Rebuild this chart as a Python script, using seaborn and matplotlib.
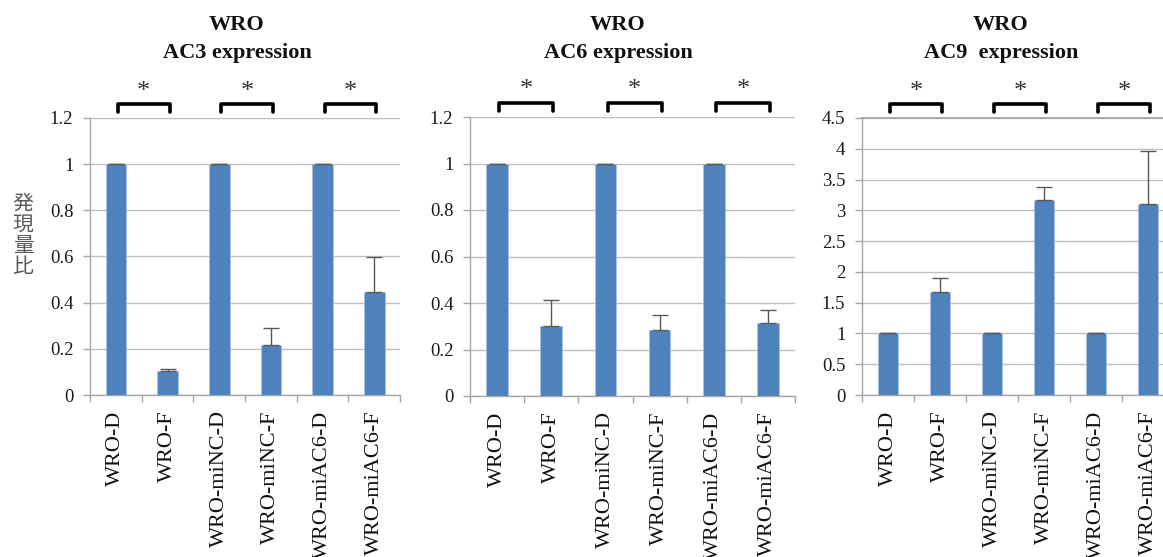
import numpy as np
import pandas as pd
import matplotlib
matplotlib.use("Agg")
import matplotlib.pyplot as plt
import matplotlib.transforms as mtransforms
import seaborn as sns

# Sample groups (same for all three genes)
groups = ["WRO-D", "WRO-F", "WRO-miNC-D", "WRO-miNC-F", "WRO-miAC6-D", "WRO-miAC6-F"]

# Relative expression (mean) and upper error per gene
ac3_mean = [1.0, 0.103, 1.0, 0.218, 1.0, 0.447]
ac3_err = [0.0, 0.010, 0.0, 0.074, 0.0, 0.153]

ac6_mean = [1.0, 0.300, 1.0, 0.283, 1.0, 0.313]
ac6_err = [0.0, 0.113, 0.0, 0.066, 0.0, 0.055]

ac9_mean = [1.0, 1.67, 1.0, 3.17, 1.0, 3.11]
ac9_err = [0.0, 0.23, 0.0, 0.21, 0.0, 0.85]

titles = ["AC3 expression", "AC6 expression", "AC9  expression"]
y_max = [1.2, 1.2, 4.5]
y_step = [0.2, 0.2, 0.5]
y_tick_labels = [
    ["0", "0.2", "0.4", "0.6", "0.8", "1", "1.2"],
    ["0", "0.2", "0.4", "0.6", "0.8", "1", "1.2"],
    ["0", "0.5", "1", "1.5", "2", "2.5", "3", "3.5", "4", "4.5"],
]
# Pairs compared (index of D group), all significant
sig_pairs = [0, 2, 4]
sig_mark = "*"

sns.set_theme(style="white")
plt.rcParams["font.family"] = ["Liberation Serif", "DejaVu Serif"]

BAR = "#4F81BD"
GRID = "#BFBFBF"
AXIS = "#A6A6A6"
ERR = "#595959"

W, H = 1163, 557
fig = plt.figure(figsize=(W / 100, H / 100), dpi=100)

# axes boxes in pixels: left, right, top, bottom
boxes = [(90, 400, 118, 395), (470, 795, 117, 396), (862, 1174, 118, 395)]
title_x = [237, 618, 1001]

datasets = [(ac3_mean, ac3_err), (ac6_mean, ac6_err), (ac9_mean, ac9_err)]

for k, ((l, r, t, b), (means, errs)) in enumerate(zip(boxes, datasets)):
    ax = fig.add_axes([l / W, (H - b) / H, (r - l) / W, (b - t) / H])
    df = pd.DataFrame({"group": groups, "value": means})
    sns.barplot(data=df, x="group", y="value", ax=ax, color=BAR,
                width=0.4, saturation=1, edgecolor="#A9C1DF", linewidth=0.6,
                zorder=3)
    xs = np.arange(len(groups))
    ax.errorbar(xs, means, yerr=[np.zeros(len(errs)), errs], fmt="none",
                ecolor=ERR, elinewidth=1.0, capsize=6, capthick=1.0, zorder=4)

    ax.set_xlim(-0.5, len(groups) - 0.5)
    ax.set_ylim(0, y_max[k])
    yt = np.arange(len(y_tick_labels[k])) * y_step[k]
    ax.set_yticks(yt)
    ax.set_yticklabels(y_tick_labels[k], fontsize=13.5)
    ax.set_xticks(xs)
    ax.set_xticklabels(groups, rotation=90, fontsize=16)
    ax.set_xticks(np.arange(len(groups) + 1) - 0.5, minor=True)
    ax.set_xlabel("")
    ax.set_ylabel("")

    ax.yaxis.grid(True, color=GRID, linewidth=1.0, zorder=0)
    ax.xaxis.grid(False)
    ax.set_axisbelow(True)
    for side in ["top", "right"]:
        ax.spines[side].set_visible(False)
    for side in ["left", "bottom"]:
        ax.spines[side].set_color(AXIS)
        ax.spines[side].set_linewidth(1.0)
    if k == 2:
        ax.spines["top"].set_visible(True)
        ax.spines["top"].set_color("#A0A0A0")
        ax.spines["top"].set_linewidth(1.2)

    ax.tick_params(axis="y", which="major", left=True, length=5, width=1,
                   color=AXIS, pad=7, labelcolor="#1a1a1a")
    ax.tick_params(axis="x", which="major", bottom=False, length=0, pad=11,
                   labelcolor="#111111")
    ax.tick_params(axis="x", which="minor", bottom=True, length=5, width=1,
                   color=AXIS)

    # significance brackets above the plot area
    trans = mtransforms.blended_transform_factory(ax.transData, ax.transAxes)
    for i in sig_pairs:
        x0, x1 = i + 0.04, i + 1.04
        ax.plot([x0, x0, x1, x1], [1.020, 1.049, 1.049, 1.020], color="black",
                lw=2.6, transform=trans, clip_on=False,
                solid_joinstyle="round", solid_capstyle="round")
        ax.text((x0 + x1) / 2, 1.095, sig_mark, transform=trans, ha="center",
                va="center", fontsize=19, color="#333333")

    fig.text(title_x[k] / W, (H - 30) / H, "WRO", ha="center", va="baseline",
             fontsize=16, fontweight="bold", color="#111111")
    fig.text(title_x[k] / W, (H - 58) / H, titles[k], ha="center",
             va="baseline", fontsize=16, fontweight="bold", color="#111111")

fig.text(23 / W, (H - 235) / H, "発\n現\n量\n比", ha="center", va="center",
         fontsize=15, linespacing=0.95, color="#595959",
         family=["Noto Sans CJK JP", "DejaVu Sans"])

fig.savefig("out.png", dpi=100, facecolor="white")
